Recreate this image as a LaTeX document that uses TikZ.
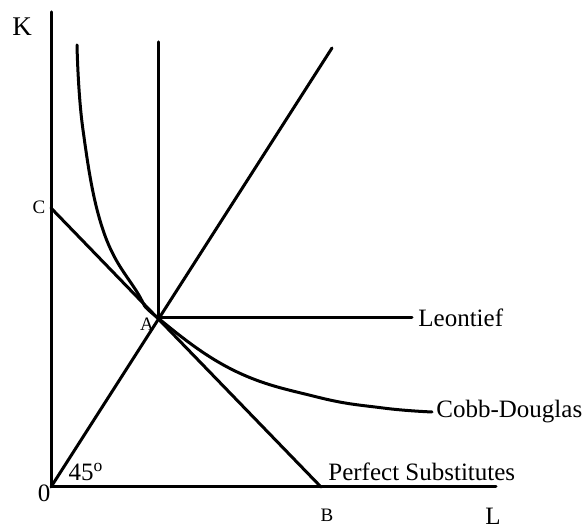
\documentclass[tikz,border=0pt]{standalone}
\usepackage{fontspec}
\setmainfont{Liberation Serif}
\usepackage{tikz}
\usetikzlibrary{positioning}

\begin{document}
\begin{tikzpicture}[
    x=0.5pt, y=0.5pt,
    every node/.style={font=\fontsize{12.5}{15}\selectfont, inner sep=0pt},
    small/.style={font=\fontsize{9.5}{11}\selectfont},
    iso/.style={line width=1.5pt, line cap=round, line join=round}
]
\useasboundingbox (0,0) rectangle (585,528);
% axes and fixed points
\coordinate (o) at (51,41);
\coordinate (ktop) at (51,516);
\coordinate (lend) at (496,41);
\coordinate (a) at (158,210);
\coordinate (c) at (51,320);
\coordinate (b) at (321,41);
\coordinate (ltop) at (158,486);
\coordinate (lright) at (412,210);
\coordinate (rayend) at (332,480);
\coordinate (cdend) at (432,116);
\draw[iso] (ktop) -- (o) -- (lend);
\draw[iso] (ltop) -- (a) -- (lright);
\draw[iso] (o) -- (rayend);
\draw[iso] (c) -- (b);
\draw[iso] plot[smooth, tension=0.7] coordinates {(77,483) (83,398) (103,298) (137,236) (a) (233,158) (317,131) (383,120) (cdend)};
% labels
\node (klbl) at (22,501) {\fontsize{13.5}{16}\selectfont K};
\node (llbl) at (493,12) {L};
\node (olbl) at (44,35) {0};
\node (anglbl) at (86,56) {45\textsuperscript{o}};
\node[small] (clbl) at (39,321) {C};
\node[small] (albl) at (147,204) {A};
\node[small] (blbl) at (327,13) {B};
\node[anchor=west] (leon) at (418,210) {Leontief};
\node[anchor=west] (cobb) at (436,116) {Cobb-Douglas};
\node[anchor=west] (perf) at (328,56) {Perfect Substitutes};
\end{tikzpicture}
\end{document}
